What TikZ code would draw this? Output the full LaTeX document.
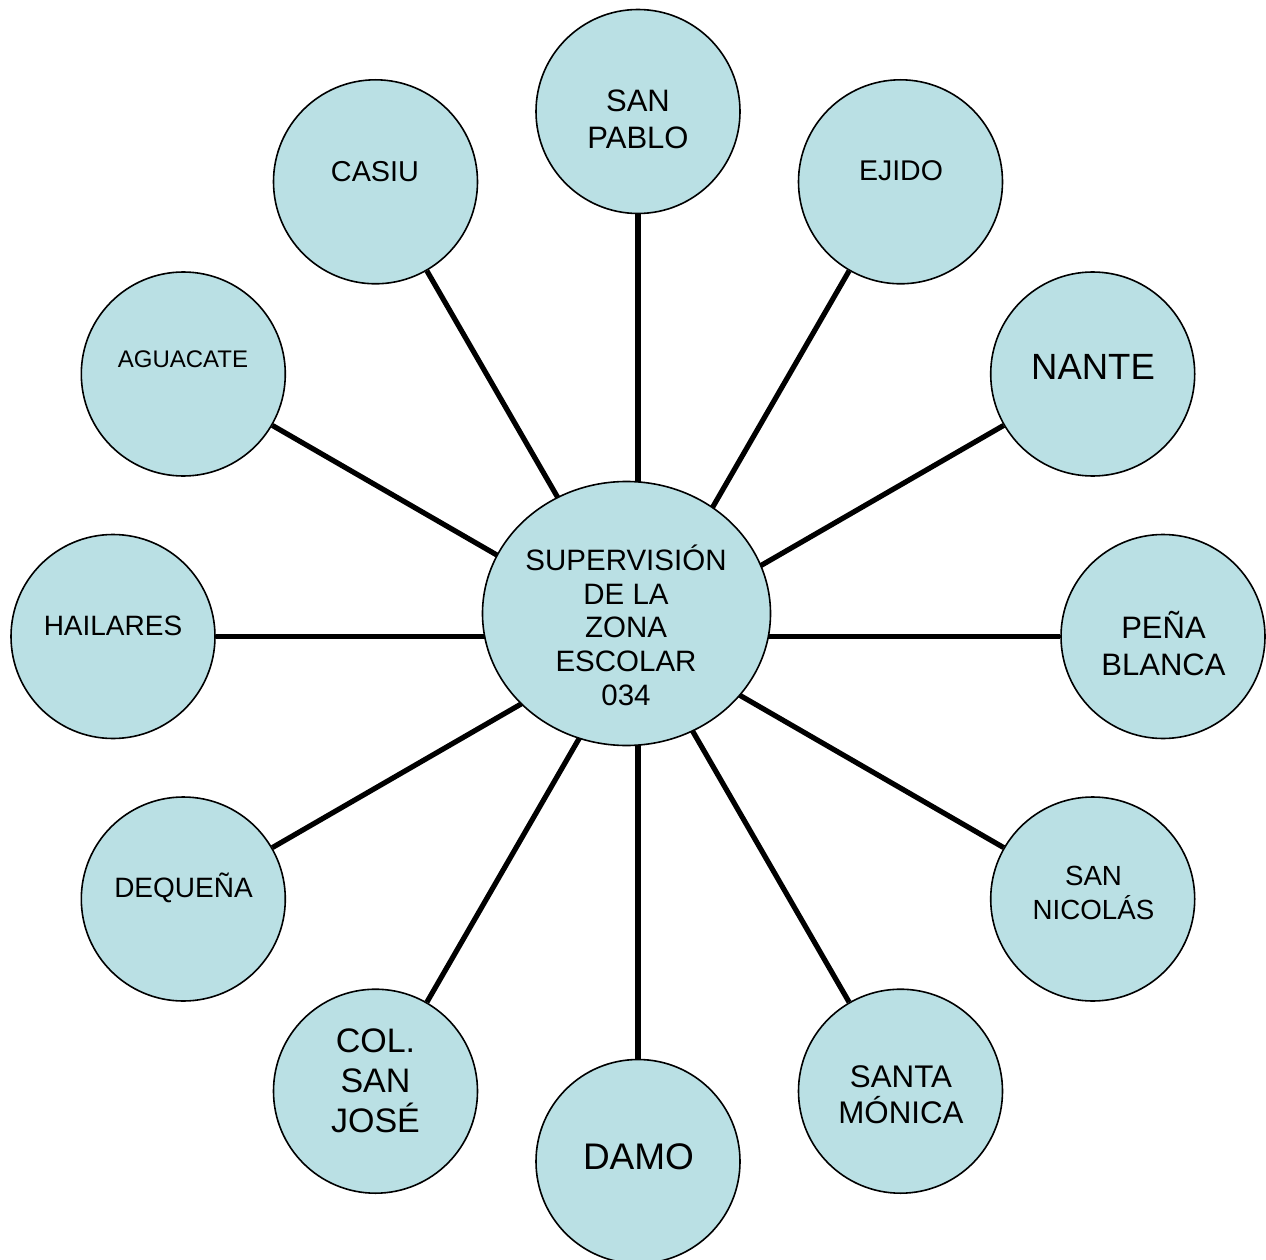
\documentclass[tikz,border=0pt]{standalone}
\usepackage{fontspec}
\setmainfont{Liberation Sans}
\usetikzlibrary{shapes.geometric,backgrounds}
\definecolor{bub}{RGB}{186,224,228}
\begin{document}
\begin{tikzpicture}[x=1pt,y=-1pt,
  bubble/.style={circle,draw=black,line width=1.6pt,fill=bub,minimum size=204pt,inner sep=0pt},
  hubstyle/.style={ellipse,draw=black,line width=1.6pt,fill=bub,minimum width=288pt,minimum height=264pt,inner sep=0pt},
  lbl/.style={align=center,inner sep=0pt,anchor=base},
  spoke/.style={line width=5.2pt,draw=black}]
\useasboundingbox (0,0) rectangle (1266,1260);
\coordinate (ctr) at (638,636.5);
% hub
\node[hubstyle] (hub) at (626.5,613.5) {};
% outer circles
\node[bubble] (c1)  at (638,111.5) {};
\node[bubble] (c2)  at (900.5,181.8) {};
\node[bubble] (c3)  at (1092.7,374) {};
\node[bubble] (c4)  at (1163,636.5) {};
\node[bubble] (c5)  at (1092.7,899) {};
\node[bubble] (c6)  at (900.5,1091.2) {};
\node[bubble] (c7)  at (638,1161.5) {};
\node[bubble] (c8)  at (375.5,1091.2) {};
\node[bubble] (c9)  at (183.3,899) {};
\node[bubble] (c10) at (113,636.5) {};
\node[bubble] (c11) at (183.3,374) {};
\node[bubble] (c12) at (375.5,181.8) {};
% spokes
\begin{scope}[on background layer]
\foreach \n in {c1,c2,c3,c4,c5,c6,c7,c8,c9,c10,c11,c12}
  \draw[spoke] (ctr) -- (\n);
\end{scope}
% labels (anchored at the baseline of the last line)
\node[lbl,font=\fontsize{29.5}{33.6}\selectfont] (thub) at (626,705) {SUPERVISIÓN\\DE LA\\ZONA\\ESCOLAR\\034};
\node[lbl,font=\fontsize{31}{36.6}\selectfont] (t1) at (638,148.3) {SAN\\PABLO};
\node[lbl,font=\fontsize{28.5}{34}\selectfont] (t2) at (901,180.2) {EJIDO};
\node[lbl,font=\fontsize{36.5}{40}\selectfont] (t3) at (1093,379.9) {NANTE};
\node[lbl,font=\fontsize{31}{37}\selectfont] (t4) at (1163.5,675) {PEÑA\\BLANCA};
\node[lbl,font=\fontsize{27.7}{34}\selectfont] (t5) at (1093.5,919) {SAN\\NICOLÁS};
\node[lbl,font=\fontsize{31.3}{36}\selectfont] (t6) at (901,1123) {SANTA\\MÓNICA};
\node[lbl,font=\fontsize{37}{40}\selectfont] (t7) at (638.5,1169) {DAMO};
\node[lbl,font=\fontsize{34}{40}\selectfont] (t8) at (375.5,1132.7) {COL.\\SAN\\JOSÉ};
\node[lbl,font=\fontsize{28}{34}\selectfont] (t9) at (183.5,897.9) {DEQUEÑA};
\node[lbl,font=\fontsize{28}{34}\selectfont] (t10) at (113,635.9) {HAILARES};
\node[lbl,font=\fontsize{24}{30}\selectfont] (t11) at (183,367.6) {AGUACATE};
\node[lbl,font=\fontsize{28.8}{34}\selectfont] (t12) at (375,181.9) {CASIU};
\end{tikzpicture}
\end{document}
